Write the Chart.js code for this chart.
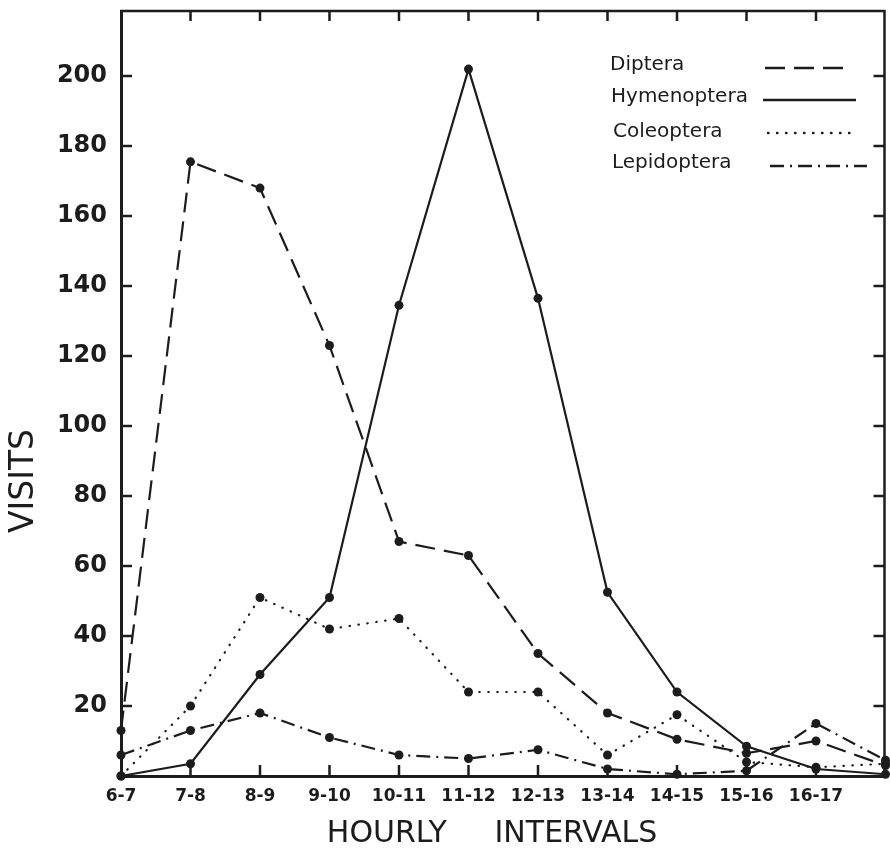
<!DOCTYPE html>
<html>
<head>
<meta charset="utf-8">
<title>Insect visits per hourly interval</title>
<script src="https://cdn.jsdelivr.net/npm/chart.js@4.4.0/dist/chart.umd.min.js"></script>
<style>
    html, body { margin: 0; padding: 0; background: #ffffff; }
    #wrap { width: 890px; height: 855px; }
</style>
</head>
<body>
<div id="wrap"><canvas id="visits_chart"></canvas></div>
<script>
'use strict';

// hourly intervals; the last point has no label (runs to the right edge)
var hours = ['6-7', '7-8', '8-9', '9-10', '10-11', '11-12', '12-13', '13-14', '14-15', '15-16', '16-17', ''];

var diptera     = [13, 175.5, 168, 123, 67, 63, 35, 18, 10.5, 6.5, 10, 3];
var hymenoptera = [0, 3.5, 29, 51, 134.5, 202, 136.5, 52.5, 24, 8.5, 2, 0.5];
var coleoptera  = [0, 20, 51, 42, 45, 24, 24, 6, 17.5, 4, 2.5, 3.5];
var lepidoptera = [6, 13, 18, 11, 6, 5, 7.5, 2, 0.5, 1.5, 15, 4.5];

var yTicks = [20, 40, 60, 80, 100, 120, 140, 160, 180, 200];

var ink = '#1c1c1c';

function series( label, values, dash, cap ) {
    return {
        label: label,
        data: values,
        borderColor: ink,
        borderWidth: 2.2,
        borderDash: dash,
        borderCapStyle: cap || 'butt',
        pointBackgroundColor: ink,
        pointBorderWidth: 0,
        pointRadius: 4.5,
        tension: 0,
        fill: false,
        clip: false
    };
}

// inward ticks, top/right frame, axis titles and the hand-set legend
var decorations = {
    id: 'decorations',
    afterDraw: function( chart ) {
        var ctx = chart.ctx;
        var area = chart.chartArea;
        var xs = chart.scales.x;
        var ys = chart.scales.y;
        ctx.save();
        ctx.strokeStyle = ink;
        ctx.setLineDash([]);

        // frame top and right
        ctx.lineWidth = 2.5;
        ctx.beginPath();
        ctx.moveTo(area.left - 1, area.top);
        ctx.lineTo(area.right - 1, area.top);
        ctx.lineTo(area.right - 1, area.bottom);
        ctx.stroke();

        // y ticks on both sides
        yTicks.forEach(function( v ) {
            var py = ys.getPixelForValue(v);
            ctx.beginPath();
            ctx.moveTo(area.left, py);
            ctx.lineTo(area.left + 11, py);
            ctx.moveTo(area.right - 1, py);
            ctx.lineTo(area.right - 12, py);
            ctx.stroke();
        });

        // x ticks bottom and top
        for (var i = 1; i < hours.length - 1; i++) {
            var px = xs.getPixelForValue(i);
            ctx.beginPath();
            ctx.moveTo(px, area.bottom);
            ctx.lineTo(px, area.bottom - 11);
            ctx.moveTo(px, area.top);
            ctx.lineTo(px, area.top + 10);
            ctx.stroke();
        }

        // axis titles
        ctx.fillStyle = ink;
        ctx.font = '30px "DejaVu Sans"';
        ctx.textAlign = 'center';
        ctx.textBaseline = 'middle';
        ctx.fillText('HOURLY     INTERVALS', 492, 834);

        ctx.save();
        ctx.translate(24, 481);
        ctx.rotate(-Math.PI / 2);
        ctx.font = '33px "DejaVu Sans"';
        ctx.fillText('VISITS', 0, 0);
        ctx.restore();

        // legend
        var rows = [
            { x: 610, y: 70, lx: 765, lw: 86, ly: 68 },
            { x: 611, y: 102, lx: 763, lw: 93, ly: 100 },
            { x: 613, y: 137, lx: 768, lw: 90, ly: 133 },
            { x: 612, y: 168, lx: 770, lw: 97, ly: 166 }
        ];
        ctx.font = '20px "DejaVu Sans"';
        ctx.textAlign = 'left';
        ctx.textBaseline = 'alphabetic';
        chart.data.datasets.forEach(function( ds, k ) {
            var r = rows[k];
            ctx.fillText(ds.label, r.x, r.y);
            ctx.lineWidth = 2.4;
            ctx.lineCap = ds.borderCapStyle;
            ctx.setLineDash(ds.borderDash);
            ctx.beginPath();
            ctx.moveTo(r.lx, r.ly);
            ctx.lineTo(r.lx + r.lw, r.ly);
            ctx.stroke();
        });
        ctx.restore();
    }
};

var canvas = document.getElementById('visits_chart');
var visitsChart = new Chart(canvas.getContext('2d'), {
    type: 'line',
    data: {
        labels: hours,
        datasets: [
            series('Diptera', diptera, [20, 9]),
            series('Hymenoptera', hymenoptera, []),
            series('Coleoptera', coleoptera, [0.5, 8.5], 'round'),
            series('Lepidoptera', lepidoptera, [14, 6, 2, 6])
        ]
    },
    options: {
        responsive: true,
        maintainAspectRatio: false,
        animation: false,
        layout: { padding: { top: 11, right: 1, left: 0, bottom: 0 } },
        plugins: {
            legend: { display: false },
            tooltip: { enabled: false }
        },
        scales: {
            x: {
                type: 'category',
                offset: false,
                grid: { display: false, drawTicks: false },
                border: { display: true, width: 3, color: ink },
                ticks: {
                    autoSkip: false,
                    maxRotation: 0,
                    padding: 10,
                    color: ink,
                    font: { family: 'DejaVu Sans', size: 17, weight: 'bold' }
                },
                afterFit: function( scale ) {
                    scale.height = 79;
                    scale.paddingLeft = 0;
                    scale.paddingRight = 0;
                }
            },
            y: {
                min: 0,
                max: 218.6,
                grid: { display: false, drawTicks: false },
                border: { display: true, width: 3, color: ink },
                ticks: {
                    padding: 14,
                    color: ink,
                    font: { family: 'DejaVu Sans', size: 24, weight: 'bold' }
                },
                afterBuildTicks: function( scale ) {
                    scale.ticks = yTicks.map(function( v ) { return { value: v }; });
                },
                afterFit: function( scale ) {
                    scale.width = 121;
                    scale.paddingTop = 0;
                    scale.paddingBottom = 0;
                }
            }
        }
    },
    plugins: [decorations]
});
</script>
</body>
</html>
